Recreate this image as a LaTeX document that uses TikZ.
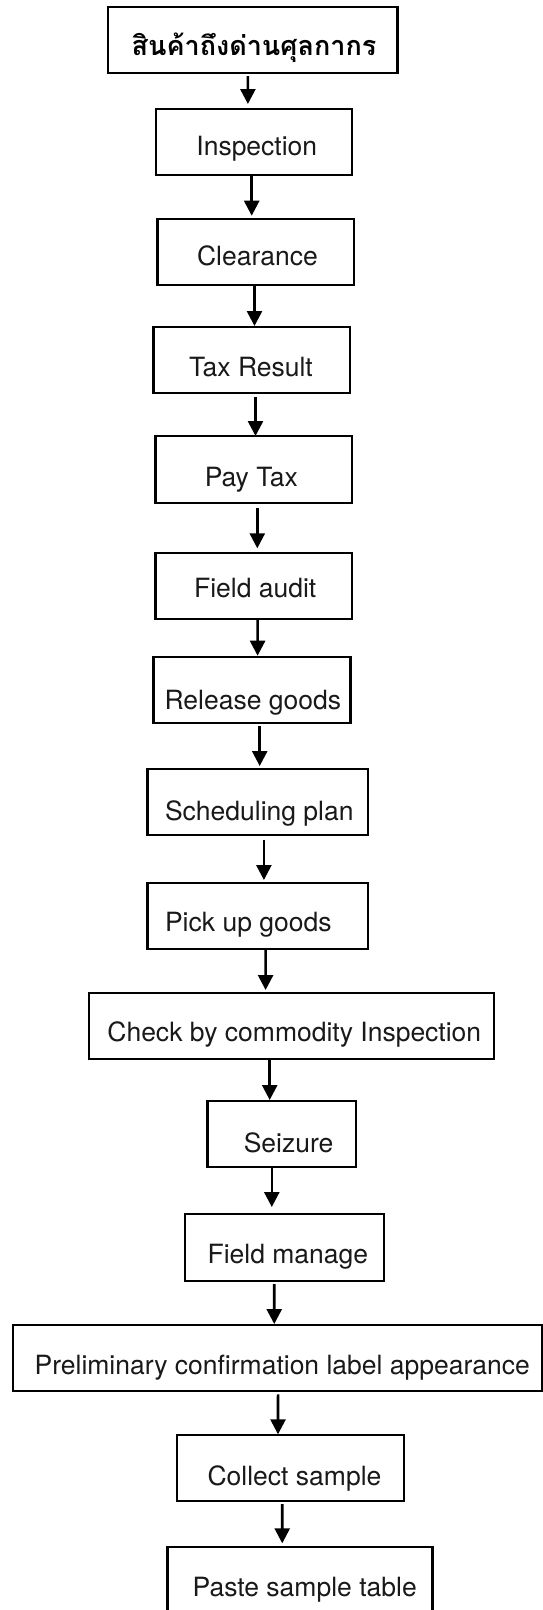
\documentclass[tikz,border=0pt]{standalone}
\usepackage{fontspec}
\setmainfont{TeX Gyre Heros}
\newfontfamily\thaifont[Script=Thai]{Loma}
\usetikzlibrary{arrows.meta,calc}
\tikzset{
  box/.style={draw=black, line width=2.2pt, rectangle, inner sep=0pt, outer sep=0pt},
  lbl/.style={anchor=base, inner sep=0pt, font=\fontsize{26.5}{30}\selectfont, text=black!90},
  thailbl/.style={anchor=base, inner sep=0pt, font=\thaifont\bfseries\fontsize{27}{30}\selectfont},
  arr/.style={line width=2.6pt, -{Triangle[width=15pt,length=15pt]}}
}
\newcommand\bx[5]{\node[box, minimum width={(#3-#2)*1pt}, minimum height={(#5-#4)*1pt}] (#1) at ({(#2+#3)/2},{(#4+#5)/2}) {};}
\begin{document}
\begin{tikzpicture}[x=1pt,y=-1pt]
\useasboundingbox (0,0) rectangle (543,1610);
\fill[white] (0,0) rectangle (543,1610);
\begin{scope}
\clip (0,0) rectangle (543,1610);
\bx{b1}{108}{397.5}{6.7}{72.7}
\bx{b2}{155.8}{351.8}{108.7}{174.7}
\bx{b3}{157.5}{353.9}{219}{285}
\bx{b4}{153.4}{350.1}{326.7}{393}
\bx{b5}{155.5}{352.1}{436.3}{502.7}
\bx{b6}{155.5}{352.1}{552.7}{618.7}
\bx{b7}{153.4}{350.4}{656.7}{723}
\bx{b8}{147.5}{368.1}{768.7}{835}
\bx{b9}{147.5}{368.1}{882.7}{949}
\bx{b10}{89.3}{494.1}{993}{1059}
\bx{b11}{207.4}{356}{1100.7}{1167}
\bx{b12}{185.2}{384.3}{1214.3}{1281}
\bx{b13}{13.2}{541.6}{1324.7}{1391}
\bx{b14}{177.3}{404.1}{1434.7}{1501}
\bx{b15}{167.5}{432.4}{1546.7}{1630}

\node[thailbl] (t1) at (254,55) {สินค้าถึงด่านศุลกากร};
\node[lbl] (t2) at (256.8,155) {Inspection};
\node[lbl] (t3) at (257.4,265.7) {Clearance};
\node[lbl] (t4) at (251,376.7) {Tax Result};
\node[lbl] (t5) at (251.3,486.6) {Pay Tax};
\node[lbl] (t6) at (255.2,597.5) {Field audit};
\node[lbl] (t7) at (252.8,709.3) {Release goods};
\node[lbl] (t8) at (259.3,820.7) {Scheduling plan};
\node[lbl] (t9) at (248.3,931.7) {Pick up goods};
\node[lbl] (t10) at (294.3,1041.7) {Check by commodity Inspection};
\node[lbl] (t11) at (288.6,1152.3) {Seizure};
\node[lbl] (t12) at (287.9,1263.3) {Field manage};
\node[lbl] (t13) at (282.2,1374.3) {Preliminary confirmation label appearance};
\node[lbl] (t14) at (294.5,1485.7) {Collect sample};
\node[lbl] (t15) at (304.7,1596.7) {Paste sample table};

\draw[arr] ($(b1.south)+(-4.85,3.3)$) -- ($(b2.north)+(-5.9,-4.7)$);
\draw[arr] ($(b2.south)+(-2.1,1)$) -- ($(b3.north)+(-4.0,-3.3)$);
\draw[arr] ($(b3.south)+(-1.2,0)$) -- ($(b4.north)+(2.75,-0.7)$);
\draw[arr] ($(b4.south)+(3.75,3.7)$) -- ($(b5.north)+(1.7,-0.3)$);
\draw[arr] ($(b5.south)+(3.5,5.3)$) -- ($(b6.north)+(3.5,-4.4)$);
\draw[arr] ($(b6.south)+(3.8,0)$) -- ($(b7.north)+(5.7,-1)$);
\draw[arr] ($(b7.south)+(7.8,2.7)$) -- ($(b8.north)+(1.9,-2.7)$);
\draw[arr] ($(b8.south)+(6.1,4.7)$) -- ($(b9.north)+(6.1,-2.7)$);
\draw[arr] ($(b9.south)+(7.8,0)$) -- ($(b10.north)+(-26.1,-3)$);
\draw[arr] ($(b10.south)+(-22,0)$) -- ($(b11.north)+(-12,-0.7)$);
\draw[arr] ($(b11.south)+(-9.9,0)$) -- ($(b12.north)+(-12.95,-7.3)$);
\draw[arr] ($(b12.south)+(-10.55,3)$) -- ($(b13.north)+(-3.15,-0.7)$);
\draw[arr] ($(b13.south)+(0.65,3.3)$) -- ($(b14.north)+(-12.7,-0.4)$);
\draw[arr] ($(b14.south)+(-8.5,3)$) -- ($(b15.north)+(-17.7,-3.4)$);
\end{scope}
\end{tikzpicture}
\end{document}
